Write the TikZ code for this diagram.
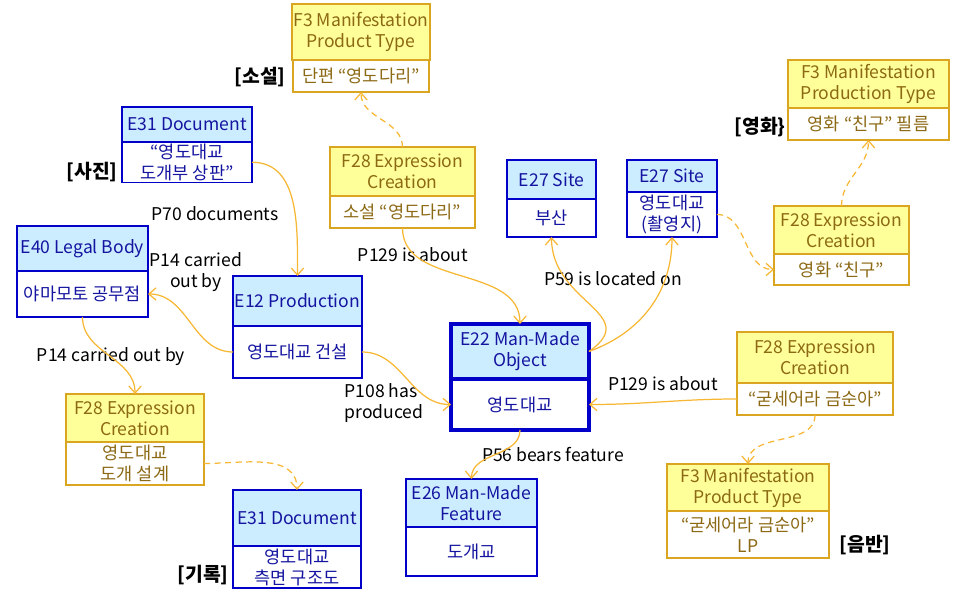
\documentclass[tikz,border=0pt]{standalone}
\usepackage{fontspec}
\setmainfont{Noto Sans CJK KR}
\usepackage{xcolor}
\usepackage{tikz}
\usetikzlibrary{arrows.meta}
\usetikzlibrary{shapes,positioning}

\definecolor{efill}{RGB}{204,236,255}
\definecolor{eline}{RGB}{0,0,200}
\definecolor{etext}{RGB}{20,20,160}
\definecolor{ffill}{RGB}{255,255,153}
\definecolor{fline}{RGB}{218,165,32}
\definecolor{ftext}{RGB}{140,105,20}
\definecolor{linkc}{RGB}{247,183,51}

\tikzset{
    box/.style={rectangle, outer sep=0pt, inner sep=1pt, align=center,
        font=\fontsize{10}{12}\selectfont},
    ehead/.style={box, draw=eline, line width=0.9pt, fill=efill, text=etext},
    ebody/.style={box, draw=eline, line width=0.9pt, fill=white, text=etext},
    fhead/.style={box, draw=fline, line width=0.8pt, fill=ffill, text=ftext},
    fbody/.style={box, draw=fline, line width=0.8pt, fill=white, text=ftext},
    link/.style={draw=linkc, line width=0.7pt,
        -{Straight Barb[length=4pt,width=7pt]}},
    derived/.style={link, dash pattern=on 3.5pt off 2.5pt},
    rel/.style={font=\fontsize{10}{12}\selectfont, align=center},
    tag/.style={font=\fontsize{11}{13}\selectfont\bfseries}
}

\begin{document}
\begin{tikzpicture}
                \useasboundingbox (0,0) rectangle (19.22,12);

                \node[
                    fhead, anchor=north,
                    minimum width=2.72cm, minimum height=1.12cm
                    ] (f3novel) at (7.22,11.92) {F3 Manifestation\\Product Type};
                \node[
                    fbody, below=0pt of f3novel,
                    minimum width=2.72cm, minimum height=0.64cm
                    ] (f3novelv) {단편 “영도다리”};

                \node[
                    ehead, anchor=north,
                    minimum width=2.60cm, minimum height=0.70cm
                    ] (e31photo) at (3.74,9.86) {E31 Document};
                \node[
                    ebody, below=0pt of e31photo,
                    minimum width=2.60cm, minimum height=0.80cm
                    ] (e31photov) {“영도대교\\도개부 상판”};

                \node[
                    fhead, anchor=north,
                    minimum width=2.90cm, minimum height=0.98cm
                    ] (f28novel) at (8.05,9.06) {F28 Expression\\Creation};
                \node[
                    fbody, below=0pt of f28novel,
                    minimum width=2.90cm, minimum height=0.64cm
                    ] (f28novelv) {소설 “영도다리”};

                \node[
                    ehead, anchor=north,
                    minimum width=2.62cm, minimum height=0.90cm
                    ] (e40) at (1.65,7.48) {E40 Legal Body};
                \node[
                    ebody, below=0pt of e40,
                    minimum width=2.62cm, minimum height=0.92cm
                    ] (e40v) {야마모토 공무점};

                \node[
                    ehead, anchor=north,
                    minimum width=2.58cm, minimum height=1.00cm
                    ] (e12) at (5.95,6.48) {E12 Production};
                \node[
                    ebody, below=0pt of e12,
                    minimum width=2.58cm, minimum height=1.04cm
                    ] (e12v) {영도대교 건설};

                \node[
                    ehead, anchor=north, line width=2.3pt,
                    minimum width=2.76cm, minimum height=1.10cm
                    ] (e22) at (10.40,5.52) {E22 Man-Made\\Object};
                \node[
                    ebody, below=0pt of e22, line width=2.3pt,
                    minimum width=2.76cm, minimum height=1.02cm
                    ] (e22v) {영도대교};

                \node[
                    ehead, anchor=north,
                    minimum width=1.78cm, minimum height=0.78cm
                    ] (e27busan) at (11.03,8.80) {E27 Site};
                \node[
                    ebody, below=0pt of e27busan,
                    minimum width=1.78cm, minimum height=0.76cm
                    ] (e27busanv) {부산};

                \node[
                    ehead, anchor=north,
                    minimum width=1.80cm, minimum height=0.64cm
                    ] (e27yeong) at (13.44,8.80) {E27 Site};
                \node[
                    ebody, below=0pt of e27yeong,
                    minimum width=1.80cm, minimum height=0.90cm
                    ] (e27yeongv) {영도대교\\(촬영지)};

                \node[
                    fhead, anchor=north,
                    minimum width=3.22cm, minimum height=0.96cm
                    ] (f3film) at (17.37,10.80) {F3 Manifestation\\Production Type};
                \node[
                    fbody, below=0pt of f3film,
                    minimum width=3.22cm, minimum height=0.64cm
                    ] (f3filmv) {영화 “친구” 필름};

                \node[
                    fhead, anchor=north,
                    minimum width=2.70cm, minimum height=0.96cm
                    ] (f28film) at (16.83,7.88) {F28 Expression\\Creation};
                \node[
                    fbody, below=0pt of f28film,
                    minimum width=2.70cm, minimum height=0.62cm
                    ] (f28filmv) {영화 “친구”};

                \node[
                    fhead, anchor=north,
                    minimum width=3.12cm, minimum height=1.02cm
                    ] (f28song) at (16.30,5.36) {F28 Expression\\Creation};
                \node[
                    fbody, below=0pt of f28song,
                    minimum width=3.12cm, minimum height=0.64cm
                    ] (f28songv) {“굳세어라 금순아”};

                \node[
                    fhead, anchor=north,
                    minimum width=3.24cm, minimum height=0.94cm
                    ] (f3lp) at (14.96,2.72) {F3 Manifestation\\Product Type};
                \node[
                    fbody, below=0pt of f3lp,
                    minimum width=3.24cm, minimum height=0.94cm
                    ] (f3lpv) {“굳세어라 금순아”\\LP};

                \node[
                    fhead, anchor=north,
                    minimum width=2.76cm, minimum height=0.96cm
                    ] (f28design) at (2.70,4.12) {F28 Expression\\Creation};
                \node[
                    fbody, below=0pt of f28design,
                    minimum width=2.76cm, minimum height=0.86cm
                    ] (f28designv) {영도대교\\도개 설계};

                \node[
                    ehead, anchor=north,
                    minimum width=2.56cm, minimum height=1.12cm
                    ] (e31rec) at (5.94,2.20) {E31 Document};
                \node[
                    ebody, below=0pt of e31rec,
                    minimum width=2.56cm, minimum height=0.84cm
                    ] (e31recv) {영도대교\\측면 구조도};

                \node[
                    ehead, anchor=north,
                    minimum width=2.62cm, minimum height=0.96cm
                    ] (e26) at (9.43,2.42) {E26 Man-Made\\Feature};
                \node[
                    ebody, below=0pt of e26,
                    minimum width=2.62cm, minimum height=0.98cm
                    ] (e26v) {도개교};

                \node[tag] (tnovel) at (5.20,10.46) {[소설]};
                \node[tag] (tphoto) at (1.84,8.56) {[사진]};
                \node[tag] (tfilm) at (15.20,9.46) {[영화\}};
                \node[tag] (tdisc) at (17.30,1.10) {[음반]};
                \node[tag] (trec) at (4.06,0.50) {[기록]};

                \node[rel] (p129a) at (8.26,6.90) {P129 is about};
                \node[rel] (p70) at (4.30,7.72) {P70 documents};
                \node[rel] (p14a) at (3.92,6.56) {P14 carried\\out by};
                \node[rel] (p14b) at (2.22,4.86) {P14 carried out by};
                \node[rel, align=left] (p108) at (7.68,3.94) {P108 has\\produced};
                \node[rel] (p59) at (12.26,6.42) {P59 is located on};
                \node[rel] (p129b) at (13.26,4.32) {P129 is about};
                \node[rel] (p56) at (11.06,2.90) {P56 bears feature};

                \draw[link] (f28novelv.south) to[out=-90,in=90] (e22.north);
                \draw[derived] (f28novel.north) to[out=90,in=-90] (f3novelv.south);
                \draw[link] (e31photov.east) to[out=0,in=90] (e12.north);
                \draw[link] (e12v.west) to[out=180,in=0] (e40v.east);
                \draw[link] (e40v.south) to[out=-90,in=90] (f28design.north);
                \draw[derived] (f28designv.east) to[out=0,in=90] (e31rec.north);
                \draw[link] (e12v.east) to[out=0,in=180] (e22v.west);
                \draw[link] (e22.east) to[out=35,in=-90,looseness=1.4] (e27busanv.south);
                \draw[link] (e22.east) to[out=20,in=-90] (e27yeongv.south);
                \draw[derived] (e27yeongv.east) to[out=0,in=180] (f28filmv.west);
                \draw[derived] (f28film.north) to[out=90,in=-90] (f3filmv.south);
                \draw[link] (f28songv.west) to[out=180,in=0] (e22v.east);
                \draw[derived] (f28songv.south) to[out=-90,in=90] (f3lp.north);
                \draw[link] (e22v.south) to[out=-90,in=90] (e26.north);

            \end{tikzpicture}
\end{document}
